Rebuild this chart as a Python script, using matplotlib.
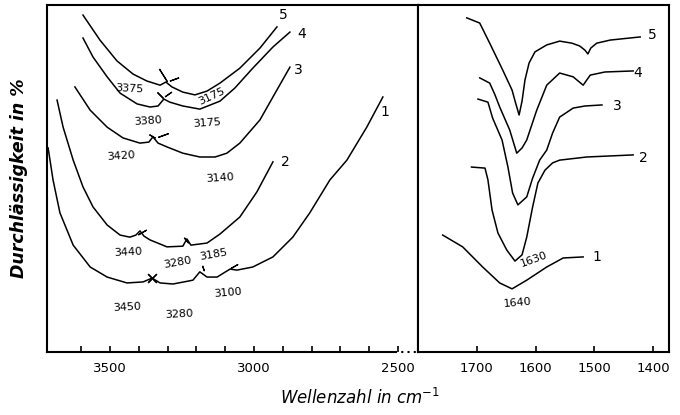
import matplotlib.pyplot as plt

# IR-Spektren, Bereich 3700-2450 cm-1 (links) und 1800-1370 cm-1 (rechts)
# Durchlaessigkeit in % (willkuerliche Skala, jede Kurve versetzt)

# --- linker Teil: OH/NH-Bereich ---
wn5_l = [3594, 3535, 3476, 3420, 3372, 3326, 3306, 3285, 3247, 3205, 3163, 3118, 3049, 2979, 2920]
t5_l = [97.1, 89.9, 83.9, 80.1, 78.1, 76.9, 77.8, 76.4, 74.9, 74.1, 75.2, 77.5, 81.8, 87.6, 93.7]

wn4_l = [3594, 3559, 3510, 3465, 3406, 3361, 3333, 3313, 3292, 3247, 3188, 3118, 3066, 3004, 2934, 2875]
t4_l = [90.5, 85.0, 79.3, 74.6, 71.5, 70.6, 70.9, 72.9, 72.0, 70.9, 70.0, 72.3, 76.1, 81.8, 87.9, 92.2]

wn3_l = [3622, 3569, 3510, 3455, 3396, 3365, 3351, 3333, 3302, 3247, 3188, 3135, 3094, 3049, 2979, 2934, 2875]
t3_l = [76.4, 69.7, 64.8, 61.7, 60.2, 60.5, 62.0, 60.2, 59.1, 57.3, 56.2, 56.2, 57.3, 60.2, 66.9, 73.5, 82.1]

wn2_l = [3684, 3663, 3628, 3594, 3559, 3510, 3465, 3431, 3410, 3396, 3382, 3361, 3302, 3247, 3233, 3219,
         3163, 3118, 3049, 2990, 2934]
t2_l = [72.6, 64.8, 55.3, 47.6, 41.8, 36.6, 33.7, 33.1, 33.7, 34.9, 33.4, 32.3, 30.3, 30.5, 32.6, 30.8,
        31.4, 34.0, 38.9, 46.1, 54.8]

wn1_l = [3715, 3698, 3674, 3628, 3569, 3510, 3441, 3385, 3354, 3326, 3281, 3212, 3188, 3163, 3128, 3083,
         3059, 3004, 2934, 2865, 2806, 2736, 2677, 2608, 2552]
t1_l = [58.8, 49.6, 40.1, 30.8, 24.5, 21.6, 19.9, 20.2, 21.3, 19.9, 19.6, 20.7, 23.1, 21.6, 21.6, 23.9,
        23.6, 24.5, 27.4, 33.1, 40.1, 49.6, 55.3, 64.8, 73.5]

# --- rechter Teil: C=O / Amid-Bereich ---
wn5_r = [1717, 1695, 1678, 1656, 1640, 1634, 1628, 1623, 1618, 1611, 1601, 1581, 1559, 1538, 1525, 1516,
         1511, 1506, 1496, 1473, 1422]
t5_r = [96.3, 94.8, 89.0, 81.3, 75.5, 71.8, 68.3, 72.3, 78.4, 83.3, 86.5, 88.5, 89.6, 89.0, 88.2, 87.0,
        85.9, 87.6, 89.0, 89.9, 90.8]

wn4_r = [1695, 1678, 1669, 1661, 1644, 1632, 1623, 1615, 1598, 1581, 1559, 1536, 1519, 1507, 1482, 1434]
t4_r = [79.0, 77.5, 74.1, 70.6, 64.0, 57.3, 58.8, 61.1, 69.7, 76.9, 80.4, 79.3, 76.9, 79.8, 80.7, 81.0]

wn3_r = [1698, 1681, 1673, 1657, 1647, 1639, 1630, 1615, 1605, 1593, 1581, 1571, 1559, 1536, 1516, 1487]
t3_r = [72.9, 72.0, 67.4, 61.1, 53.3, 45.8, 42.4, 44.7, 50.1, 55.3, 58.2, 63.1, 67.7, 70.3, 70.9, 71.2]

wn2_r = [1709, 1686, 1681, 1674, 1664, 1649, 1635, 1623, 1615, 1605, 1596, 1584, 1571, 1559, 1513, 1434]
t2_r = [53.3, 53.0, 49.6, 40.9, 34.3, 29.4, 26.2, 28.0, 33.1, 41.8, 48.7, 52.4, 54.5, 55.3, 56.2, 56.8]

wn1_r = [1758, 1724, 1690, 1661, 1640, 1615, 1581, 1553, 1519]
t1_r = [33.7, 30.3, 24.5, 19.9, 18.2, 20.7, 24.5, 27.1, 27.4]

# Kurvennummern (Text, x, y)
nums_l = [("5", 2899, 97.1), ("4", 2833, 91.6), ("3", 2847, 81.3), ("2", 2892, 54.8), ("1", 2545, 69.2)]
nums_r = [("5", 1402, 91.4), ("4", 1426, 80.4), ("3", 1461, 70.9), ("2", 1416, 55.9), ("1", 1496, 27.4)]

# Bandenlagen (Text, x, y, Drehung)
bands_l = [("3375", 3434, 75.8, -3), ("3175", 3146, 73.8, 25), ("3380", 3368, 66.6, 4),
           ("3175", 3163, 66.0, 4), ("3420", 3462, 56.5, 4), ("3140", 3118, 50.1, 4),
           ("3440", 3438, 28.8, 3), ("3280", 3267, 25.9, 10), ("3185", 3139, 28.2, 10),
           ("3450", 3441, 13.0, 3), ("3280", 3260, 11.0, 3), ("3100", 3090, 17.0, 5)]
bands_r = [("1630", 1603, 26.8, 20), ("1640", 1630, 14.1, 5)]

# Strichmarken an den Schultern (x, y, Winkel, Laenge)
marks_l = [(3316, 79.8, 32, 11), (3278, 78.7, -70, 7), (3326, 74.1, 45, 6), (3299, 74.4, -55, 6),
           (3354, 62.2, 60, 5), (3316, 62.5, -70, 8), (3389, 34.6, -60, 7), (3236, 32.3, 40, 5),
           (3354, 21.3, 45, 9), (3354, 21.3, -45, 9), (3177, 24.2, 20, 4), (3069, 24.8, -60, 6)]

fig = plt.figure(figsize=(6.8, 4.15), dpi=100)
ax1 = fig.add_axes([0.0691, 0.1518, 0.5456, 0.8361])
ax2 = fig.add_axes([0.6147, 0.1518, 0.3691, 0.8361])

lw = 1.1
for wn, t in [(wn5_l, t5_l), (wn4_l, t4_l), (wn3_l, t3_l), (wn2_l, t2_l), (wn1_l, t1_l)]:
    ax1.plot(wn, t, color='black', lw=lw, solid_joinstyle='round')
for wn, t in [(wn5_r, t5_r), (wn4_r, t4_r), (wn3_r, t3_r), (wn2_r, t2_r), (wn1_r, t1_r)]:
    ax2.plot(wn, t, color='black', lw=lw, solid_joinstyle='round')

for x, y, ang, size in marks_l:
    ax1.plot([x], [y], marker=(2, 2, ang), markersize=size, color='black', mew=0.9)

for s, x, y in nums_l:
    ax1.text(x, y, s, fontsize=10, ha='center', va='center')
for s, x, y in nums_r:
    ax2.text(x, y, s, fontsize=10, ha='center', va='center')
for s, x, y, r in bands_l:
    ax1.text(x, y, s, fontsize=8, ha='center', va='center', rotation=r)
for s, x, y, r in bands_r:
    ax2.text(x, y, s, fontsize=8, ha='center', va='center', rotation=r)

ax1.set_xlim(3719, 2430)
ax2.set_xlim(1800, 1373)
for ax in (ax1, ax2):
    ax.set_ylim(0, 100)
    ax.set_yticks([])
    for sp in ax.spines.values():
        sp.set_linewidth(1.5)
    ax.tick_params(axis='x', direction='in', length=4, width=1.2, pad=7, labelsize=9.5)

ax1.set_xticks([3500, 3000, 2500])
ax1.set_xticks(range(2600, 3700, 100), minor=True)
ax1.tick_params(axis='x', which='minor', direction='in', length=4, width=1.2)
ax2.set_xticks([1700, 1600, 1500, 1400])
ax2.set_xticklabels(['1700', '1600', '1500', '1400'])

# unterbrochene Achse am Ende des linken Teils
ax1.spines['bottom'].set_bounds(3719, 2510)
ax1.plot([2510, 2430], [0, 0], color='black', lw=1.5, ls=(0, (1, 2)), clip_on=False)

fig.text(0.028, 0.57, "Durchlässigkeit in %", rotation=90, ha='center', va='center',
         fontsize=12.5, fontstyle='italic', fontweight='bold')
fig.text(0.53, 0.041, "Wellenzahl in cm$^{-1}$", ha='center', va='center',
         fontsize=12, fontstyle='italic')

fig.savefig('out.png', dpi=100)
